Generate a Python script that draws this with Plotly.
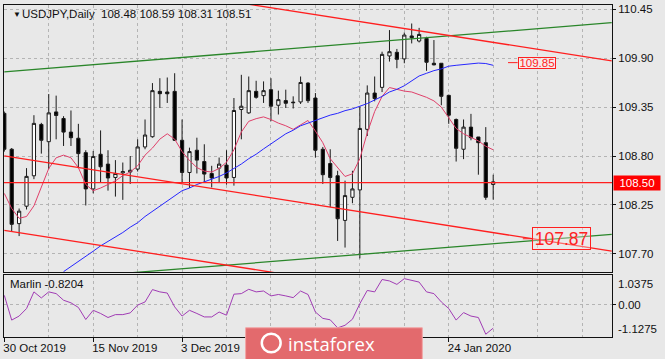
import plotly.graph_objects as go

# ---------------- data ----------------
bar_idx = list(range(67))
opens = [109.28, 108.876, 108.04, 108.236, 108.578, 109.155, 108.961, 109.296, 109.222, 109.069,
         109.0, 108.838, 108.43, 108.82, 108.709, 108.559, 108.61, 108.62, 108.653, 108.902,
         109.017, 109.527, 109.52, 109.527, 108.977, 108.615, 108.865, 108.738, 108.604, 108.664,
         108.698, 108.559, 109.323, 109.285, 109.527, 109.479, 109.546, 109.371, 109.423, 109.406,
         109.408, 109.62, 109.452, 108.876, 108.716, 108.578, 108.076, 108.336, 108.419, 109.10,
         109.508, 109.572, 109.925, 109.966, 109.892, 110.15, 110.093, 110.122, 109.843, 109.843,
         109.482, 109.211, 108.876, 109.125, 109.014, 108.95, 108.48]
highs = [109.30, 108.89, 108.21, 108.664, 109.259, 109.173, 109.497, 109.479, 109.248, 109.312,
         109.162, 108.865, 108.857, 109.088, 108.865, 108.754, 108.727, 108.80, 108.988, 109.211,
         109.62, 109.675, 109.683, 109.731, 109.211, 108.894, 109.006, 108.932, 108.69, 108.783,
         108.865, 109.452, 109.713, 109.694, 109.646, 109.639, 109.675, 109.535, 109.546, 109.471,
         109.694, 109.63, 109.508, 108.902, 108.876, 108.634, 108.523, 108.634, 109.36, 109.594,
         109.694, 109.973, 110.216, 110.004, 110.189, 110.29, 110.241, 110.141, 110.104, 109.843,
         109.49, 109.222, 109.211, 109.274, 109.014, 109.125, 108.59]
lows = [108.85, 107.946, 107.90, 108.199, 108.54, 108.827, 108.653, 108.988, 108.913, 108.913,
        108.664, 108.244, 108.381, 108.504, 108.411, 108.344, 108.307, 108.486, 108.626, 108.876,
        109.006, 109.34, 109.397, 108.969, 108.504, 108.441, 108.604, 108.504, 108.447, 108.504,
        108.478, 108.467, 108.988, 109.274, 109.445, 109.397, 109.192, 109.267, 109.34, 109.334,
        109.385, 109.397, 108.783, 108.486, 108.225, 107.845, 107.771, 108.269, 107.649, 109.025,
        109.415, 109.519, 109.862, 109.787, 109.843, 110.066, 110.077, 109.758, 109.82, 109.371,
        109.162, 108.738, 108.765, 108.977, 108.59, 108.307, 108.31]
closes = [108.876, 108.032, 108.18, 108.571, 109.167, 108.977, 109.285, 109.256, 109.069, 109.006,
          108.827, 108.43, 108.794, 108.679, 108.553, 108.604, 108.625, 108.64, 108.902, 109.036,
          109.535, 109.501, 109.50, 108.977, 108.615, 108.85, 108.754, 108.597, 108.553, 108.709,
          108.553, 109.312, 109.36, 109.535, 109.46, 109.535, 109.36, 109.434, 109.393, 109.40,
          109.627, 109.423, 108.865, 108.59, 108.559, 108.095, 108.355, 108.43, 109.11, 109.508,
          109.446, 109.943, 109.973, 109.887, 110.16, 110.13, 110.167, 109.854, 109.825, 109.471,
          109.259, 108.887, 109.125, 109.006, 108.95, 108.336, 108.51]

ma_fast = [108.38, 108.21, 108.10, 108.12, 108.24, 108.44, 108.66, 108.78, 108.81, 108.78,
           108.67, 108.48, 108.41, 108.44, 108.48, 108.52, 108.58, 108.62, 108.69, 108.81,
           108.89, 108.99, 109.05, 108.99, 108.85, 108.75, 108.67, 108.63, 108.62, 108.66,
           108.73, 108.87, 109.07, 109.19, 109.22, 109.24, 109.21, 109.17, 109.14, 109.10,
           109.15, 109.20, 109.08, 108.95, 108.77, 108.67, 108.57, 108.60, 108.77, 109.06,
           109.30, 109.47, 109.57, 109.55, 109.53, 109.52, 109.49, 109.46, 109.42, 109.35,
           109.23, 109.11, 109.05, 109.01, 108.97, 108.91, 108.87]

ma_slow_idx = list(range(8, 67))
ma_slow = [107.50, 107.56, 107.61, 107.67, 107.73, 107.79, 107.84, 107.89, 107.94, 108.00,
           108.05, 108.12, 108.18, 108.24, 108.30, 108.36, 108.41, 108.44, 108.48, 108.51,
           108.54, 108.57, 108.61, 108.66, 108.71, 108.77, 108.82, 108.88, 108.94, 108.99,
           109.05, 109.09, 109.14, 109.17, 109.20, 109.23, 109.26, 109.28, 109.31, 109.33,
           109.36, 109.39, 109.43, 109.47, 109.52, 109.55, 109.59, 109.65, 109.70, 109.73,
           109.76, 109.78, 109.81, 109.82, 109.83, 109.84, 109.845, 109.84, 109.82]

marlin = [0.32, -0.54, -0.40, -0.14, 0.44, 0.23, 0.44, 0.38, 0.15, 0.06,
          -0.10, -0.52, -0.20, -0.31, -0.45, -0.35, -0.35, -0.29, -0.02, 0.09,
          0.52, 0.44, 0.40, -0.08, -0.40, -0.20, -0.31, -0.43, -0.43, -0.26,
          -0.37, 0.36, 0.38, 0.53, 0.44, 0.47, 0.30, 0.35, 0.30, 0.24,
          0.47, 0.35, -0.26, -0.48, -0.53, -0.81, -0.72, -0.51, 0.03, 0.49,
          0.44, 0.87, 0.82, 0.70, 0.90, 0.84, 0.78, 0.44, 0.38, 0.09,
          -0.14, -0.54, -0.28, -0.40, -0.45, -1.03, -0.8204]
marlin_last = -0.8204

# trend lines: (bar index endpoints, price endpoints)
green_up_x, green_up_y = [0, 82], [109.745, 110.30]
green_lo_x, green_lo_y = [0, 82], [107.373, 107.92]
red_up_x, red_up_y = [20, 82], [110.675, 109.87]
red_mid_x, red_mid_y = [0, 82], [108.802, 107.73]
red_lo_x, red_lo_y = [0, 82], [107.965, 106.894]
hline_level = 108.50
label_upper = 109.85
label_lower = 107.87

x_tick_idx = [0, 12, 24, 60]
x_tick_text = ["30 Oct 2019", "15 Nov 2019", "3 Dec 2019", "24 Jan 2020"]
grid_idx = list(range(0, 84, 6))
price_ticks = [107.70, 108.25, 108.80, 109.35, 109.90, 110.45]
price_tick_text = ["%.2f" % v for v in price_ticks]
marlin_ticks = [1.0375, 0.0, -1.1275]
marlin_tick_text = ["1.0375", "0.00", "-1.1275"]
header_symbol = "USDJPY,Daily"
header_ohlc = [108.48, 108.59, 108.31, 108.51]

# ---------------- styling ----------------
BG = "#e8e8e8"
GRID = "#b4b4b4"
FONT = "Liberation Sans, Arial, sans-serif"
RED = "#ff1f1f"
GREEN = "#2a862a"

fig = go.Figure()

fig.add_trace(go.Candlestick(
    x=bar_idx, open=opens, high=highs, low=lows, close=closes,
    increasing=dict(fillcolor="white", line=dict(color="#1a1a1a", width=1)),
    decreasing=dict(fillcolor="black", line=dict(color="#1a1a1a", width=1)),
    whiskerwidth=0, showlegend=False, hoverinfo="skip", xaxis="x", yaxis="y"))

fig.add_trace(go.Scatter(x=bar_idx, y=ma_fast, mode="lines",
                         line=dict(color="#e0406a", width=1), hoverinfo="skip",
                         showlegend=False, xaxis="x", yaxis="y"))
fig.add_trace(go.Scatter(x=ma_slow_idx, y=ma_slow, mode="lines",
                         line=dict(color="#2727ff", width=1), hoverinfo="skip",
                         showlegend=False, xaxis="x", yaxis="y"))

for lx, ly, col in [(green_up_x, green_up_y, GREEN), (green_lo_x, green_lo_y, GREEN),
                    (red_up_x, red_up_y, RED), (red_mid_x, red_mid_y, RED),
                    (red_lo_x, red_lo_y, RED)]:
    fig.add_trace(go.Scatter(x=lx, y=ly, mode="lines", line=dict(color=col, width=1.3),
                             hoverinfo="skip", showlegend=False, xaxis="x", yaxis="y"))

fig.add_trace(go.Scatter(x=bar_idx, y=marlin, mode="lines",
                         line=dict(color="#a03cb4", width=1), hoverinfo="skip",
                         showlegend=False, xaxis="x2", yaxis="y2"))

shapes = [
    dict(type="line", xref="paper", x0=0, x1=1, yref="y", y0=hline_level, y1=hline_level,
         line=dict(color=RED, width=1.3)),
    dict(type="line", xref="x", x0=68.0, x1=69.3, yref="y", y0=label_upper, y1=label_upper,
         line=dict(color=RED, width=1)),
    dict(type="line", xref="x", x0=70.0, x1=71.3, yref="y", y0=label_lower, y1=label_lower,
         line=dict(color=RED, width=1)),
    # instaforex badge
    dict(type="rect", xref="paper", yref="paper", x0=0.3974, x1=0.688, y0=-0.07, y1=0.0278,
         fillcolor="#e36a6d", line=dict(color="#f2a6a6", width=1), layer="above"),
    dict(type="circle", xref="paper", yref="paper", x0=0.424, x1=0.455, y0=-0.046, y1=0.010,
         line=dict(color="white", width=2.5), layer="above"),
]

annotations = [
    dict(xref="paper", yref="paper", x=0.0115, y=0.972, text="▼", showarrow=False,
         xanchor="left", yanchor="middle", font=dict(family=FONT, size=8, color="#111")),
    dict(xref="paper", yref="paper", x=0.027, y=0.9716,
         text=header_symbol + "  " + " ".join("%.2f" % v for v in header_ohlc),
         showarrow=False, xanchor="left", yanchor="middle",
         font=dict(family=FONT, size=11.5, color="#111")),
    dict(xref="paper", yref="paper", x=0.006, y=0.159, text="Marlin %.4f" % marlin_last,
         showarrow=False, xanchor="left", yanchor="middle",
         font=dict(family=FONT, size=11.5, color="#111")),
    dict(xref="paper", yref="y2", x=1, xshift=4, y=marlin_ticks[0], text=marlin_tick_text[0],
         showarrow=False, xanchor="left", yanchor="top", yshift=-1,
         font=dict(family=FONT, size=11.5, color="#111")),
    dict(xref="paper", yref="y2", x=1, xshift=4, y=marlin_ticks[2], text=marlin_tick_text[2],
         showarrow=False, xanchor="left", yanchor="bottom", yshift=0,
         font=dict(family=FONT, size=11.5, color="#111")),
    dict(xref="paper", yref="y", x=1, xshift=1, y=hline_level, text="%.2f" % hline_level,
         showarrow=False, xanchor="left", yanchor="middle", width=46, height=14,
         bgcolor="#ff0000", borderpad=0, align="center",
         font=dict(family=FONT, size=11.5, color="white")),
    dict(xref="x", yref="y", x=69.3, y=label_upper, text="%.2f" % label_upper,
         showarrow=False, xanchor="left", yanchor="middle", width=36, height=10,
         bgcolor="rgba(255,236,236,0.6)", bordercolor=RED, borderwidth=1, borderpad=0,
         align="center", font=dict(family=FONT, size=11.5, color=RED)),
    dict(xref="x", yref="y", x=71.3, y=label_lower, text="%.2f" % label_lower,
         showarrow=False, xanchor="left", yanchor="middle", width=57, height=21,
         bgcolor="rgba(245,236,236,0.35)", bordercolor=RED, borderwidth=1, borderpad=0,
         align="center", font=dict(family=FONT, size=17.5, color=RED)),
    dict(xref="paper", yref="paper", x=0.5394, y=-0.019, text="instaforex",
         showarrow=False, xanchor="center", yanchor="middle",
         font=dict(family="Open Sans, sans-serif", size=18.5, color="white")),
]

axis_common = dict(showline=True, mirror=True, linecolor="#111111", linewidth=1,
                   zeroline=False, gridcolor=GRID, griddash="3px,3px", gridwidth=1,
                   tickfont=dict(family=FONT, size=11.5, color="#111"))

fig.update_layout(
    width=665, height=359,
    margin=dict(l=3, r=53, t=3, b=22),
    paper_bgcolor=BG, plot_bgcolor=BG,
    showlegend=False, hovermode=False, boxgap=0.38,
    shapes=shapes, annotations=annotations,
    xaxis=dict(domain=[0, 1], anchor="y", range=[-0.04, 82.04], tickvals=grid_idx,
               showticklabels=False, ticks="", showgrid=True,
               rangeslider=dict(visible=False), **axis_common),
    yaxis=dict(domain=[0.1955, 1], anchor="x", side="right", range=[107.495, 110.498],
               tickvals=price_ticks, ticktext=price_tick_text, ticks="outside", ticklen=3,
               tickcolor="#111", showgrid=True, **axis_common),
    xaxis2=dict(domain=[0, 1], anchor="y2", matches="x", range=[-0.04, 82.04],
                tickvals=x_tick_idx, ticktext=x_tick_text, ticks="outside", ticklen=4,
                tickcolor="#111", ticklabelposition="outside right", ticklabelshift=-2,
                showgrid=True,
                minor=dict(tickvals=grid_idx, showgrid=True, gridcolor=GRID,
                           griddash="3px,3px", ticks=""),
                **axis_common),
    yaxis2=dict(domain=[0, 0.1877], anchor="x2", side="right", range=[-1.1275, 1.0375],
                tickvals=[marlin_ticks[1]], ticktext=[marlin_tick_text[1]], ticks="outside",
                ticklen=3, tickcolor="#111", showgrid=True, **axis_common),
)

fig.write_html("out.html", config={"displayModeBar": False, "staticPlot": True},
               post_script="document.body.style.margin='0px';document.body.style.overflow='hidden';")
